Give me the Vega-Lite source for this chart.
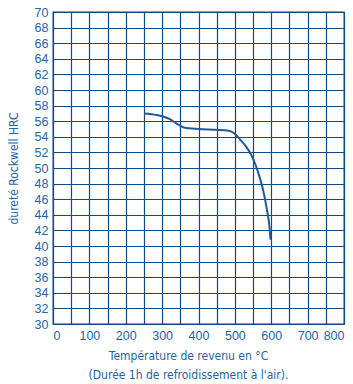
{
  "$schema": "https://vega.github.io/schema/vega-lite/v6.json",
  "autosize": "none",
  "width": 291,
  "height": 312,
  "padding": {"left": 53, "top": 12, "right": 9, "bottom": 60},
  "background": "white",
  "config": {
    "view": {"stroke": "#0f4a7e", "strokeWidth": 1.3},
    "axis": {
      "gridColor": "#0f4a7e",
      "gridWidth": 1.2,
      "gridOpacity": 1,
      "domain": false,
      "ticks": false,
      "labelColor": "#2464a6",
      "labelFont": "Liberation Sans",
      "labelFontSize": 12.5,
      "titleColor": "#2464a6",
      "titleFont": "DejaVu Sans Condensed, Liberation Sans",
      "titleFontSize": 12,
      "titleFontWeight": "normal"
    }
  },
  "data": {
    "values": [
      {"temp": 250, "hrc": 57.0},
      {"temp": 285, "hrc": 56.8},
      {"temp": 320, "hrc": 56.3},
      {"temp": 340, "hrc": 55.7},
      {"temp": 360, "hrc": 55.2},
      {"temp": 400, "hrc": 55.0},
      {"temp": 450, "hrc": 54.9},
      {"temp": 480, "hrc": 54.8},
      {"temp": 500, "hrc": 54.4},
      {"temp": 515, "hrc": 53.6},
      {"temp": 530, "hrc": 52.8},
      {"temp": 548, "hrc": 51.4},
      {"temp": 565, "hrc": 49.3},
      {"temp": 577, "hrc": 47.3},
      {"temp": 588, "hrc": 44.7},
      {"temp": 595, "hrc": 42.5},
      {"temp": 598, "hrc": 40.8}
    ]
  },
  "mark": {"type": "line", "interpolate": "monotone", "color": "#1d5a9a", "strokeWidth": 2},
  "encoding": {
    "x": {
      "field": "temp",
      "type": "quantitative",
      "scale": {"domain": [0, 800], "nice": false},
      "axis": {
        "values": [0, 50, 100, 150, 200, 250, 300, 350, 400, 450, 500, 550, 600, 650, 700, 750, 800],
        "labelExpr": "datum.value % 100 === 0 ? datum.label : ''",
        "labelPadding": 5,
        "labelFlush": true,
        "labelOverlap": false,
        "title": ["Température de revenu en °C", "(Durée 1h de refroidissement à l'air)."],
        "titleLineHeight": 19,
        "titlePadding": 9,
        "titleX": 135
      }
    },
    "y": {
      "field": "hrc",
      "type": "quantitative",
      "scale": {"domain": [30, 70], "nice": false},
      "axis": {
        "values": [30, 32, 34, 36, 38, 40, 42, 44, 46, 48, 50, 52, 54, 56, 58, 60, 62, 64, 66, 68, 70],
        "labelPadding": 5,
        "labelOverlap": false,
        "labelFlush": false,
        "title": "dureté Rockwell HRC",
        "titlePadding": 14
      }
    }
  }
}
